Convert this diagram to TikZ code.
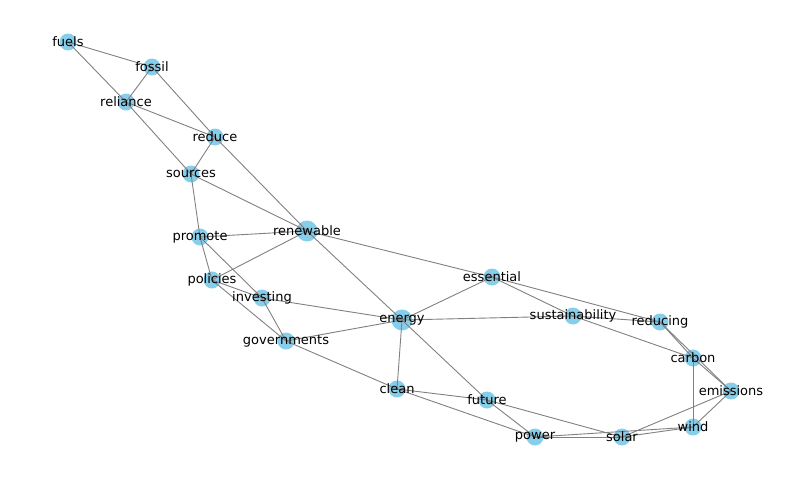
\documentclass[tikz,border=0pt]{standalone}
\usepackage{fontspec}
\setmainfont{DejaVu Sans}
\begin{document}
\begin{tikzpicture}[x=1pt,y=-1pt,
  dot/.style={circle,fill=cyan!45!blue!35!white,fill=skyblue,inner sep=0pt,minimum size=17pt},
  big/.style={dot,minimum size=21pt},
  lab/.style={font=\fontsize{13}{15}\selectfont},
  edge/.style={draw=gray,line width=0.9pt}]
\definecolor{skyblue}{RGB}{135,206,235}
\useasboundingbox (0,0) rectangle (800,480);
\foreach \n/\x/\y/\s in {fuels/68/42/dot,fossil/152/67/dot,reliance/126/102/dot,reduce/215/137/dot,sources/191/174/dot,renewable/307/231/big,promote/200/237/dot,policies/212/280/dot,investing/262/298/dot,governments/286/341/dot,energy/402/320/big,essential/492/277/dot,sustainability/573/316/dot,reducing/660/322/dot,carbon/693/358/dot,emissions/731/391/dot,wind/693/427/dot,solar/622/437/dot,power/535/437/dot,future/487/400/dot,clean/397/389/dot}
  \node[\s] (\n) at (\x,\y) {};
\begin{scope}[on background layer/.style={}]
\foreach \a/\b in {fuels/fossil,fuels/reliance,fossil/reliance,fossil/reduce,reliance/reduce,reliance/sources,reduce/sources,reduce/renewable,sources/renewable,sources/promote,promote/renewable,promote/investing,promote/policies,policies/renewable,policies/investing,policies/governments,investing/governments,investing/energy,governments/energy,governments/clean,renewable/energy,renewable/essential,energy/essential,energy/sustainability,energy/clean,energy/future,essential/sustainability,essential/reducing,sustainability/reducing,sustainability/carbon,reducing/carbon,reducing/emissions,carbon/emissions,carbon/wind,emissions/wind,emissions/solar,wind/solar,wind/power,solar/power,future/solar,future/power,clean/future,clean/power}
  \draw[edge] (\a.center) -- (\b.center);
\end{scope}
\foreach \n in {fuels,fossil,reliance,reduce,sources,renewable,promote,policies,investing,governments,energy,essential,sustainability,reducing,carbon,emissions,wind,solar,power,future,clean}
  \node[lab] at (\n) {\n};
\end{tikzpicture}
\end{document}
